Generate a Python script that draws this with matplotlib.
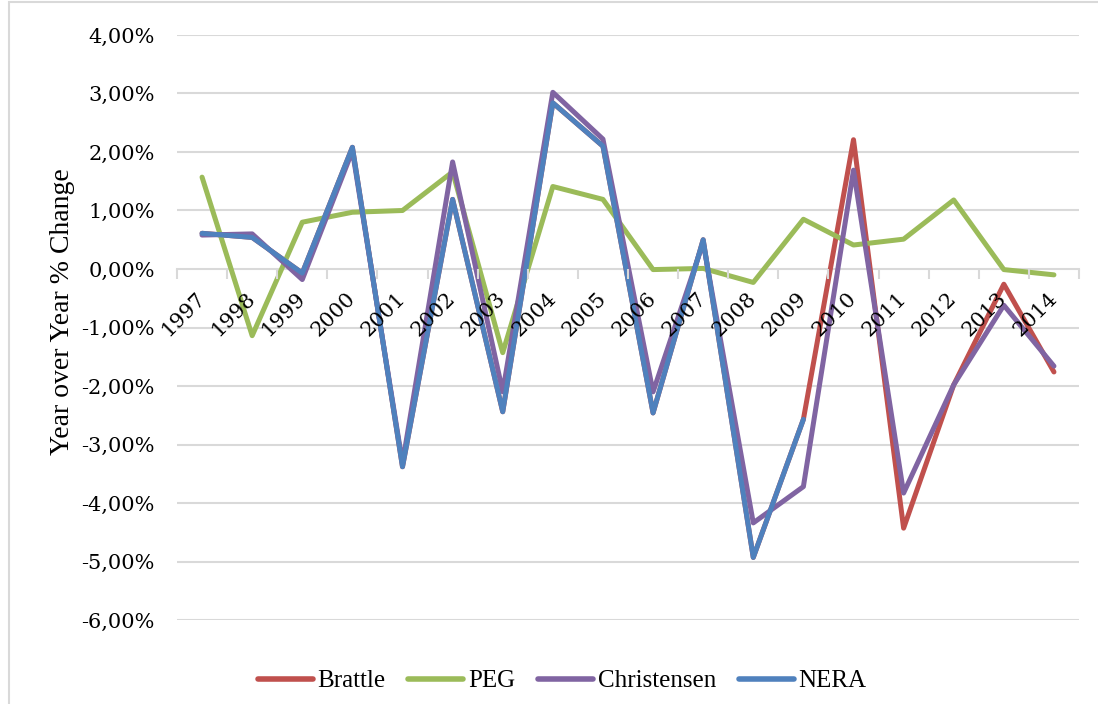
import numpy as np
import matplotlib
matplotlib.use("Agg")
import matplotlib.pyplot as plt
from matplotlib.ticker import FuncFormatter, FixedLocator
from matplotlib.patches import Rectangle

years = [str(y) for y in range(1997, 2015)]

# year over year % change per study (NaN = no value)
brattle = [0.61, 0.54, -0.07, 2.08, -3.38, 1.19, -2.44, 2.84, 2.10, -2.46,
           0.50, -4.93, -2.57, 2.21, -4.43, -1.98, -0.26, -1.76]
peg = [1.57, -1.14, 0.80, 0.97, 1.00, 1.66, -1.43, 1.41, 1.19, -0.01,
       0.01, -0.23, 0.85, 0.41, 0.51, 1.18, -0.01, -0.10]
christensen = [0.58, 0.60, -0.18, 2.02, -3.32, 1.83, -2.10, 3.02, 2.22, -2.10,
               0.45, -4.34, -3.72, 1.69, -3.83, -1.98, -0.62, -1.66]
nera = [0.61, 0.54, -0.07, 2.08, -3.38, 1.19, -2.44, 2.84, 2.10, -2.46,
        0.50, -4.93, -2.57, np.nan, np.nan, np.nan, np.nan, np.nan]

series = [("Brattle", brattle, "#C0504D"),
          ("PEG", peg, "#9BBB59"),
          ("Christensen", christensen, "#8064A2"),
          ("NERA", nera, "#4F81BD")]

fig = plt.figure(figsize=(10.98, 7.04), dpi=100)
ax = fig.add_axes([0.1612, 0.1193, 0.8215, 0.831])

x = np.arange(len(years))
for name, vals, col in series:
    ax.plot(x, vals, color=col, lw=3.6, label=name, solid_capstyle="round",
            solid_joinstyle="round", zorder=2)

ax.set_xlim(-0.5, len(years) - 0.5)
ax.set_ylim(-6, 4)

# horizontal gridlines under the series
yt = np.arange(-6, 5, 1)
for t in yt:
    if t != 0:
        ax.axhline(t, color="#D9D9D9", lw=1.5, zorder=0.5)

ax.set_yticks(yt)
ax.yaxis.set_major_formatter(FuncFormatter(lambda v, p: f"{v:.2f}%".replace(".", ",")))
ax.tick_params(axis="y", length=0, pad=16, labelsize=15, labelcolor="black")
for lab in ax.get_yticklabels():
    lab.set_fontfamily("DejaVu Serif")

# category axis crossing at zero
for s in ["left", "right", "top"]:
    ax.spines[s].set_visible(False)
ax.spines["bottom"].set_position(("data", 0))
ax.spines["bottom"].set_color("#D9D9D9")
ax.spines["bottom"].set_linewidth(1.5)
ax.spines["bottom"].set_zorder(1)
ax.set_axisbelow(False)

ax.set_xticks(x)
ax.set_xticklabels(years, rotation=45, ha="right", va="center",
                   rotation_mode="anchor", fontfamily="DejaVu Serif", fontsize=15)
ax.xaxis.set_minor_locator(FixedLocator(np.arange(-0.5, len(years), 1)))
ax.tick_params(axis="x", which="major", length=0, pad=19)
ax.tick_params(axis="x", which="minor", length=7, width=1.5, color="#D9D9D9", direction="out")

fig.text(63 / 1098, 1 - 312 / 704, "Year over Year % Change", rotation=90,
         ha="center", va="center", fontsize=20, fontfamily="Liberation Serif")

fig.legend(loc="center", bbox_to_anchor=(562 / 1098, 1 - 681 / 704), ncol=4,
           frameon=False, prop={"family": "Liberation Serif", "size": 18},
           handlelength=2.2, handletextpad=0.2, columnspacing=0.9)
for line in fig.legends[0].get_lines():
    line.set_linewidth(4)

# chart frame (only left and top edges fall inside the image)
fig.patches.append(Rectangle((9 / 1098, -0.1), 1.2, 1.1 - 2 / 704, transform=fig.transFigure,
                             fill=False, edgecolor="#D9D9D9", lw=1.5))

fig.savefig("out.png", dpi=100)
